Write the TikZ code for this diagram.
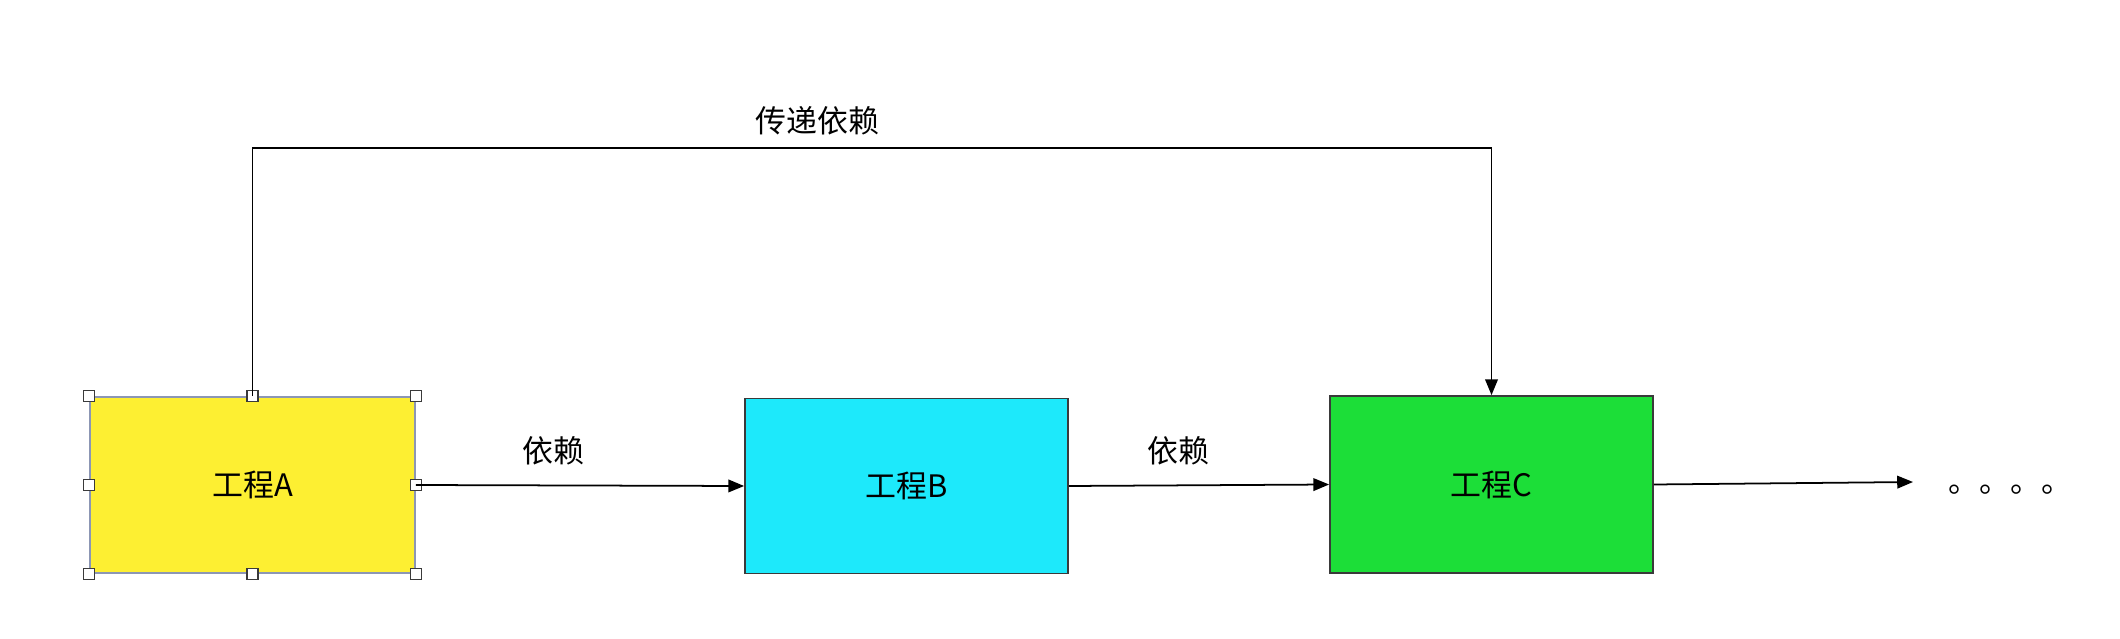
\documentclass[tikz,border=0pt]{standalone}
\usepackage{fontspec}
\usepackage{xcolor}
\setmainfont{Noto Sans CJK SC}
\usetikzlibrary{arrows.meta}
\definecolor{projyellow}{HTML}{FDEF32}
\definecolor{projcyan}{HTML}{1DE9FB}
\definecolor{projgreen}{HTML}{1CDE38}
\definecolor{boxedge}{HTML}{3A3A3A}
\definecolor{selectedge}{HTML}{8C96B4}

\begin{document}
\begin{tikzpicture}[
  x=1cm,
  y=1cm,
  every node/.style={font=\fontsize{8.8}{10}\selectfont, black},
  project/.style={draw=boxedge, line width=0.5pt, minimum width=3.23cm,
    minimum height=1.75cm, inner sep=0pt},
  link/.style={black, line width=0.5pt, -{Triangle[length=4.5pt, width=3.6pt]}},
  handle/.style={draw=boxedge, fill=white, line width=0.4pt}
]
  \useasboundingbox (0,0) rectangle (21.2,6.38);

  % ---- projects ----
  \node[project, fill=projyellow, draw=selectedge, minimum width=3.25cm,
        minimum height=1.76cm] (projA) at (2.525,1.53) {工程A};
  \node[project, fill=projcyan] (projB) at (9.065,1.52) {工程B};
  \node[project, fill=projgreen, minimum height=1.77cm] (projC) at (14.915,1.535) {工程C};

  % ---- selection handles on A ----
  \foreach \anc in {north west, north, north east, east,
                    south east, south, south west, west}
    \draw[handle] ([shift={(-0.055,-0.055)}]projA.\anc) rectangle ++(0.11,0.11);

  % ---- direct dependencies ----
  \draw[link] (projA.east) -- node[above=0.08cm, pos=0.42] {依赖} (projB.west);
  \draw[link] (projB.east) -- node[above=0.08cm, pos=0.42] {依赖} (projC.west);

  % ---- transitive dependency ----
  \draw[link] (projA.north) -- ++(0,2.48) coordinate (topbend)
    -| node[pos=0.228, above=0cm] {传递依赖} (projC.north);

  % ---- more ----
  \coordinate (moreend) at (19.13,1.56);
  \draw[link] (projC.east) -- (moreend);
  \node[anchor=west, inner sep=0pt] (moredots) at (19.48,1.48) {。。。。};
\end{tikzpicture}
\end{document}
